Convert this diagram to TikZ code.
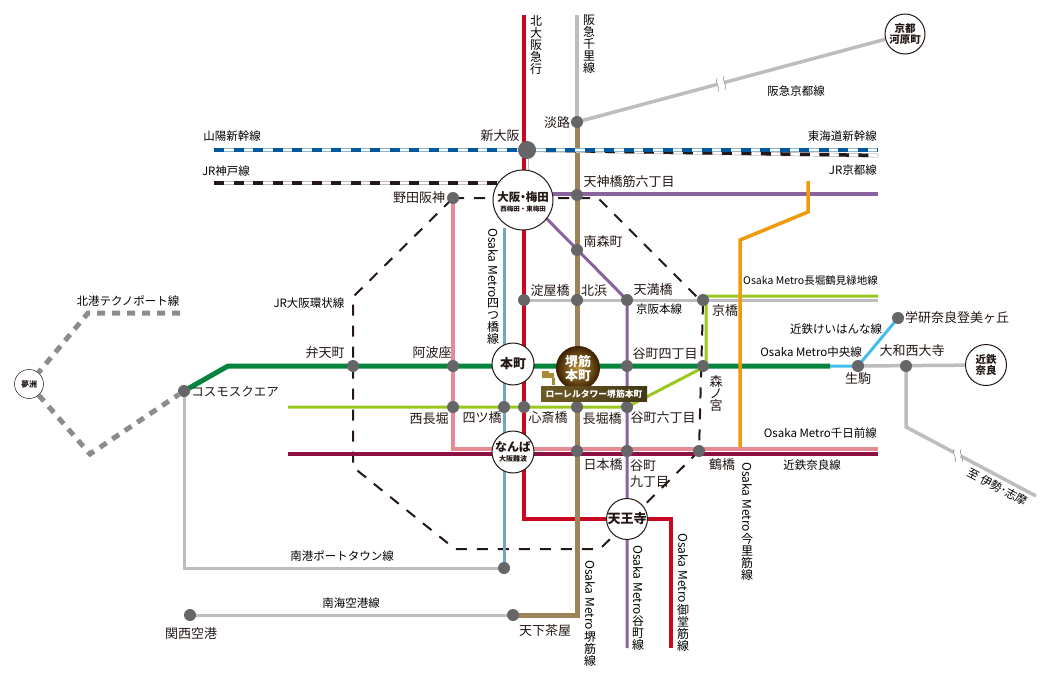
\documentclass[tikz,border=0pt]{standalone}
\usepackage{graphicx}
\usepackage{fontspec}
\setmainfont{Noto Sans CJK JP}
\usetikzlibrary{backgrounds}
\definecolor{cRed}{HTML}{C9071E}
\definecolor{cBrown}{HTML}{9C835A}
\definecolor{cGray}{HTML}{BDBDBD}
\definecolor{cNode}{HTML}{666567}
\definecolor{cBlue}{HTML}{71A7C3}
\definecolor{cPink}{HTML}{E58B93}
\definecolor{cMaroon}{HTML}{8E1042}
\definecolor{cPurple}{HTML}{8A629F}
\definecolor{cGreen}{HTML}{04833C}
\definecolor{cLime}{HTML}{9BC81E}
\definecolor{cOrange}{HTML}{F09A0A}
\definecolor{cSky}{HTML}{45BBEB}
\definecolor{cDash}{HTML}{8C8C8C}
\definecolor{cInk}{HTML}{231815}
\definecolor{cShin}{HTML}{00589F}
\definecolor{cGold}{HTML}{A88A38}
\definecolor{cGlow}{HTML}{B8923A}
\definecolor{cDeep}{HTML}{3C2000}
\newcommand{\fs}[1]{\fontsize{#1}{#1}\selectfont}
\newcommand{\ometro}{\rotatebox{-90}{Osaka Metro}}
\tikzset{
  stn/.style={circle,fill=cNode,minimum size=12pt,inner sep=0pt},
  hub/.style={circle,draw=cInk,line width=1pt,fill=white,inner sep=0pt,align=center,text=cInk},
  lbl/.style={inner sep=0pt,text=black,font=\fs{11.5}},
  slbl/.style={inner sep=0pt,text=cInk,font=\fs{13}},
  vlbl/.style={inner sep=0pt,align=center,anchor=north,text=black,font=\fs{12}},
  loopline/.style={draw=cInk,line width=2pt,dash pattern=on 11pt off 10pt},
  harbor/.style={draw=cDash,line width=5pt,dash pattern=on 8pt off 7pt},
  wave/.style={draw=gray!80,line width=.6pt},
}
\begin{document}
\begin{tikzpicture}[x=1pt,y=-1pt]
\useasboundingbox (0,0) rectangle (1050,680);
% stations
\node[stn] (awaji) at (577,122) {};
\node[stn,minimum size=18pt] (shinosaka) at (527,150) {};
\node[stn] (noda) at (453,198) {};
\node[stn] (tenroku) at (577,195) {};
\node[stn] (minamimori) at (577,250) {};
\node[stn] (yodoyabashi) at (524,300) {};
\node[stn] (kitahama) at (577,300) {};
\node[stn] (tenmabashi) at (627,300) {};
\node[stn] (kyobashi) at (703,300) {};
\node[stn] (benten) at (353,366) {};
\node[stn] (awaza) at (453,366) {};
\node[stn] (tani4) at (627,366) {};
\node[stn] (morinomiya) at (703,366) {};
\node[stn] (ikoma) at (858,366) {};
\node[stn] (saidaiji) at (906,366) {};
\node[stn] (gakken) at (898,318) {};
\node[stn] (nishinaga) at (453,407) {};
\node[stn] (yotsubashi) at (504,407) {};
\node[stn] (shinsai) at (524,407) {};
\node[stn] (nagahori) at (577,407) {};
\node[stn] (tani6) at (627,407) {};
\node[stn] (nipponbashi) at (577,451) {};
\node[stn] (tani9) at (627,451) {};
\node[stn] (tsuruhashi) at (699,451) {};
\node[stn] (cosmo) at (184,391) {};
\node[stn] (porttown) at (504,568) {};
\node[stn] (kanku) at (190,615) {};
\node[stn] (tengachaya) at (513,615) {};
% hubs
\node[hub,minimum size=60pt] (umeda) at (523,200) {};
\node[hub,minimum size=42pt,font=\fs{13}\bfseries] (honmachi) at (513,364) {本町};
\node[circle,minimum size=44pt,inner sep=0pt,inner color=cGlow,outer color=cDeep,align=center,text=white,font=\fs{13}\bfseries] (sakaisuji) at (578,368) {堺筋\\[1pt]本町};
\node[hub,minimum size=42pt] (namba) at (513,452) {};
\node[hub,minimum size=40pt,font=\fs{13}\bfseries] (tennoji) at (627,519) {天王寺};
\node[hub,minimum size=40pt,font=\fs{10.5}\bfseries] (kawaramachi) at (905,34) {京都\\河原町};
\node[hub,minimum size=41pt,font=\fs{10.5}\bfseries] (nara) at (986,365) {近鉄\\奈良};
\node[hub,minimum size=29pt,line width=.5pt,font=\fs{8}\bfseries] (yumeshima) at (29,384) {夢洲};
\node[inner sep=0pt,font=\fs{11.5}\bfseries,text=cInk] (umedaA) at (523,197) {大阪{\kern-3pt}・{\kern-3pt}梅田};
\node[inner sep=0pt,font=\fs{6.5}\bfseries,text=cInk] (umedaB) at (523,209.5) {西梅田・東梅田};
\node[inner sep=0pt,font=\fs{12}\bfseries,text=cInk] (nambaA) at (513,447) {なんば};
\node[inner sep=0pt,font=\fs{7}\bfseries,text=cInk] (nambaB) at (513,458.5) {大阪難波};
% free ends and bends
\coordinate (redTop) at (524,15);
\coordinate (redBendA) at (524,519);
\coordinate (redBendB) at (671,519);
\coordinate (redEnd) at (671,648);
\coordinate (senriTop) at (577,15);
\coordinate (brownBend) at (577,615);
\coordinate (blueTop) at (504,228);
\coordinate (pinkBend) at (453,449);
\coordinate (pinkEnd) at (878,449);
\coordinate (kntA) at (288,454);
\coordinate (kntB) at (878,454);
\coordinate (purA) at (545,194);
\coordinate (purB) at (878,194);
\coordinate (purC) at (627,648);
\coordinate (purD) at (545,217);
\coordinate (purE) at (627,300);
\coordinate (grnBend) at (228,366);
\coordinate (grnEnd) at (830,366);
\coordinate (limeA) at (288,407);
\coordinate (limeB) at (706,366);
\coordinate (limeC) at (706,296);
\coordinate (limeD) at (878,296);
\coordinate (kehEnd) at (878,300);
\coordinate (orgA) at (808,181);
\coordinate (orgB) at (808,212);
\coordinate (orgC) at (740,240);
\coordinate (orgD) at (740,447);
\coordinate (iseBend) at (906,427);
\coordinate (iseEnd) at (1036,496);
\coordinate (ptBend) at (184,568);
\coordinate (shinA) at (214,150);
\coordinate (shinB) at (878,150);
\coordinate (tokE) at (878,155.5);
\coordinate (kobeA) at (214,183);
\coordinate (kobeB) at (503,183);
\coordinate (hokA) at (180,313);
\coordinate (hokB) at (88,313);
\coordinate (hokC) at (90,454);
\coordinate (lpA) at (598,198);
\coordinate (lpB) at (703,303);
\coordinate (lpC) at (600,549);
\coordinate (lpD) at (455,549);
\coordinate (lpE) at (353,467);
\coordinate (lpF) at (353,297);
\begin{scope}[on background layer]
\fill[white] (0,0) rectangle (1050,680);
% JR loop
\draw[loopline] (noda.center) -- (lpA) -- (lpB) -- (tsuruhashi.center) -- (lpC) -- (lpD) -- (lpE) -- (lpF) -- cycle;
% grey lines
\draw[cGray,line width=3.5pt] (awaji.center) -- (kawaramachi);
\draw[cGray,line width=3.5pt] (senriTop) -- (awaji.center);
\draw[cGray,line width=3pt] (cosmo.center) -- (ptBend) -- (porttown.center);
\draw[cGray,line width=3pt] (kanku.center) -- (tengachaya.center);
\draw[cGray,line width=3pt] (yodoyabashi.center) -- (kehEnd);
\draw[cGray,line width=3.5pt] (ikoma.center) -- (nara);
\draw[cGray,line width=3.5pt] (saidaiji.center) -- (iseBend) -- (iseEnd);
% harbour line
\draw[harbor] (hokA) -- (hokB) -- (yumeshima);
\draw[harbor] (yumeshima) -- (hokC) -- (cosmo);
% colour lines
\draw[cPink,line width=3.5pt] (noda.center) -- (pinkBend) -- (pinkEnd);
\draw[cMaroon,line width=3.5pt] (kntA) -- (kntB);
\draw[cBlue,line width=3pt] (blueTop) -- (porttown.center);
\draw[cRed,line width=3.5pt] (redTop) -- (redBendA) -- (redBendB) -- (redEnd);
\draw[cPurple,line width=3.5pt] (purA) -- (purB);
\draw[cPurple,line width=3pt] (purD) -- (purE) -- (purC);
\draw[cGreen,line width=5pt] (cosmo.center) -- (grnBend) -- (grnEnd);
\draw[cSky,line width=3pt] (grnEnd) -- (ikoma.center) -- (gakken.center);
\draw[cLime,line width=3pt] (limeA) -- (tani6.center) -- (limeB) -- (limeC) -- (limeD);
\draw[cOrange,line width=3.5pt] (orgA) -- (orgB) -- (orgC) -- (orgD);
\draw[cBrown,line width=5pt] (awaji.center) -- (brownBend) -- (tengachaya.center);
% Shinkansen and JR rails
\draw[cGray,line width=4pt] (shinosaka.center) -- (tokE);
\draw[white,line width=2.6pt] (shinosaka.center) -- (tokE);
\draw[cInk,line width=3.5pt,dash pattern=on 10pt off 9.5pt] (shinosaka.center) -- (tokE);
\draw[cGray,line width=4pt] (kobeA) -- (kobeB);
\draw[white,line width=2.6pt] (kobeA) -- (kobeB);
\draw[cInk,line width=3.5pt,dash pattern=on 10pt off 9.5pt] (kobeA) -- (kobeB);
\draw[cGray,line width=4.5pt] (530,155) -- (530,176);
\draw[white,line width=3pt] (530,155) -- (530,176);
\draw[cShin!45,line width=4pt] (shinA) -- (shinB);
\draw[white,line width=2.4pt] (shinA) -- (shinB);
\draw[cShin,line width=3.5pt,dash pattern=on 10pt off 9.5pt] (shinA) -- (shinB);
\end{scope}
% breaks
\draw[white,line width=6pt] (717.5,85.3) -- (724.5,83.5);
\draw[wave] (717,78) .. controls (714,82) and (721,87) .. (718,92);
\draw[wave] (724,76) .. controls (721,80) and (728,85) .. (725,90);
\draw[white,line width=6pt] (953.5,453.6) -- (960,457);
\draw[wave] (954,449) .. controls (951,453) and (958,458) .. (955,462);
\draw[wave] (961,449) .. controls (958,453) and (965,458) .. (962,462);
% banner and flag
\node[inner sep=0pt,minimum width=106pt,minimum height=14.5pt,left color=black!35!cGold,middle color=black!15!cGold,right color=black!60!cGold,text=white,font=\fs{8.8}\bfseries] (banner) at (594,394) {ローレルタワー堺筋本町};
\fill[cGold] (542,371) -- (549,371) -- (549,373) -- (554,373) -- (554,378) -- (542,378) -- cycle;
\fill[cGold] (552,378) -- (555,378) -- (555,385) -- (552,385) -- cycle;
% line labels
\node[lbl] at (232,136) {山陽新幹線};
\node[lbl] at (226,171) {JR神戸線};
\node[lbl,anchor=east] at (877,136) {東海道新幹線};
\node[lbl,anchor=east] at (877,170) {JR京都線};
\node[lbl] at (796,91) {阪急京都線};
\node[lbl] at (309,303) {JR大阪環状線};
\node[lbl] at (128,301) {北港テクノポート線};
\node[lbl,anchor=east,font=\fs{10.5}] at (878,281) {Osaka Metro長堀鶴見緑地線};
\node[lbl] at (659,309) {京阪本線};
\node[lbl] at (836,329) {近鉄けいはんな線};
\node[lbl,anchor=east] at (862,352) {Osaka Metro中央線};
\node[lbl,anchor=east] at (877,433) {Osaka Metro千日前線};
\node[lbl] at (812,465) {近鉄奈良線};
\node[lbl] at (342,556) {南港ポートタウン線};
\node[lbl] at (351,603) {南海空港線};
\node[lbl,rotate=-28] at (998,487) {至 伊勢･志摩};
% station labels
\node[slbl] at (325,353) {弁天町};
\node[slbl] at (432,353) {阿波座};
\node[slbl,font=\fs{12.5}] at (235,392) {コスモスクエア};
\node[slbl] at (500,136) {新大阪};
\node[slbl] at (557,123) {淡路};
\node[slbl] at (419,198) {野田阪神};
\node[slbl] at (629,182) {天神橋筋六丁目};
\node[slbl] at (603,242) {南森町};
\node[slbl] at (550,291) {淀屋橋};
\node[slbl] at (594,291) {北浜};
\node[slbl] at (653,290) {天満橋};
\node[slbl] at (725,311) {京橋};
\node[slbl] at (665,354) {谷町四丁目};
\node[slbl,align=center,font=\fs{13}] at (716,394) {森\\[-1pt]ノ\\[-1pt]宮};
\node[slbl] at (429,419) {西長堀};
\node[slbl] at (482,418) {四ツ橋};
\node[slbl] at (548,418) {心斎橋};
\node[slbl] at (602,419) {長堀橋};
\node[slbl] at (663,418) {谷町六丁目};
\node[slbl] at (603,465) {日本橋};
\node[slbl,anchor=west,align=left] at (630,474) {谷町\\[3pt]九丁目};
\node[slbl] at (722,465) {鶴橋};
\node[slbl] at (858,379) {生駒};
\node[slbl] at (912,351) {大和西大寺};
\node[slbl] at (957,318) {学研奈良登美ヶ丘};
\node[slbl] at (191,634) {関西空港};
\node[slbl] at (545,631) {天下茶屋};
% vertical labels
\node[vlbl] at (536,15) {北\\大\\阪\\急\\行};
\node[vlbl] at (589,15) {阪\\急\\千\\里\\線};
\node[vlbl] at (493,228) {\ometro\\四\\つ\\橋\\線};
\node[vlbl] at (747,462) {\ometro\\今\\里\\筋\\線};
\node[vlbl] at (590,560) {\ometro\\堺\\筋\\線};
\node[vlbl] at (638,545) {\ometro\\谷\\町\\線};
\node[vlbl] at (683,533) {\ometro\\御\\堂\\筋\\線};
\end{tikzpicture}
\end{document}
